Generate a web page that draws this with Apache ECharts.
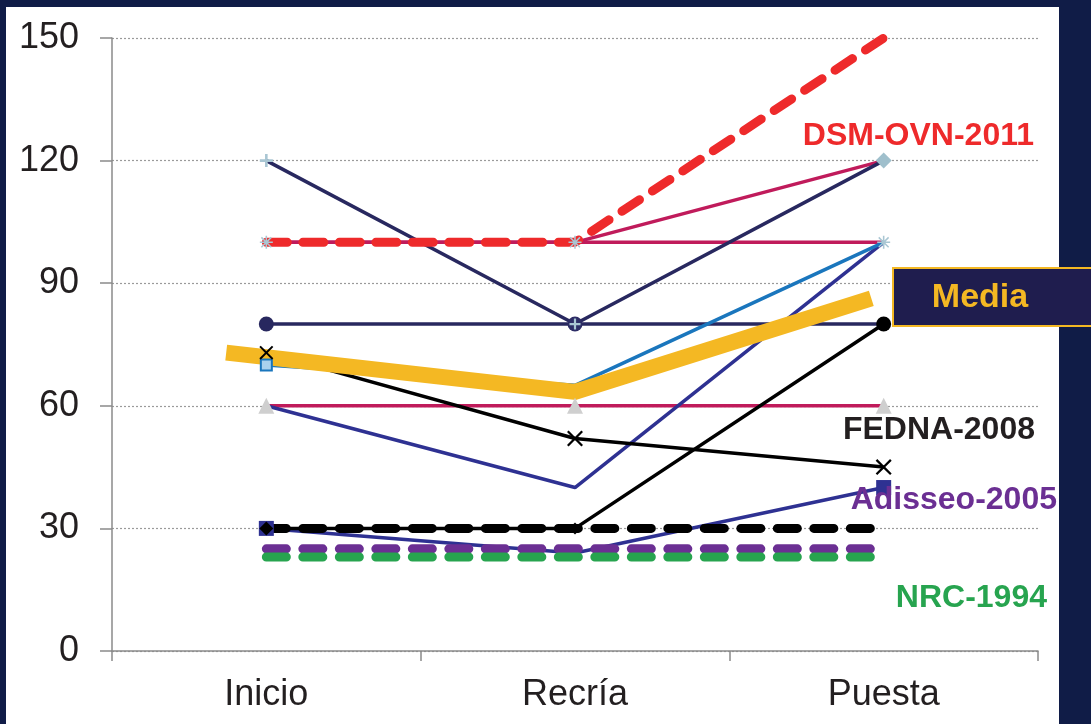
<!DOCTYPE html>
<html>
<head>
<meta charset="utf-8">
<script src="https://cdn.jsdelivr.net/npm/echarts@6/dist/echarts.min.js"></script>
<style>
  html, body { margin: 0; padding: 0; background: #101c47; }
  #chart { width: 1091px; height: 724px; }
</style>
</head>
<body>
<div id="chart"></div>
<script>
// datos
const categories = ['Inicio', 'Recría', 'Puesta'];
const yTicks = [0, 30, 60, 90, 120, 150];

const navyVee = [120, 80, 120];
const crimsonUp = [100, 100, 120];
const crimsonFlat = [100, 100, 100];
const navyFlat = [80, 80, 80];
const blueLine = [70, 65, 100];
const crimson60 = [60, 60, 60];
const indigoLine = [60, 40, 100];
const blackCross = [73, 52, 45];
const blackUp = [30, 30, 80];
const navySquare = [30, 24, 40];
const fedna2008 = [30, 30, 30];
const adisseo2005 = [25, 25, 25];
const nrc1994 = [23, 23, 23];
const dsm2011 = [100, 100, 150];
// linea Media (posicion x en unidades de categoria, 0..3)
const mediaX = [0.37, 1.5, 2.46];
const mediaY = [73, 63.4, 86.3];

const FONT = '"Liberation Sans", Arial, sans-serif';
const PLUS = 'path://M4,0h2v10h-2zM0,4h10v2h-10z';
const CROSS = 'path://M0,1L1,0L5,4L9,0L10,1L6,5L10,9L9,10L5,6L1,10L0,9L4,5z';
const STAR = 'path://M4.4,0h1.2v10h-1.2zM0,4.4h10v1.2h-10zM0.8,1.6L1.6,0.8L9.2,8.4L8.4,9.2zM8.4,0.8L9.2,1.6L1.6,9.2L0.8,8.4z';
const NONE = { symbol: 'none' };
const light = '#a9c6d3';

// simbolo por punto (solo estilo)
function pts(values, marks) {
  return values.map((v, i) => Object.assign({ value: v }, marks && marks[i] ? marks[i] : NONE));
}
function mk(symbol, size, color, extra) {
  return { symbol: symbol, symbolSize: size, itemStyle: Object.assign({ color: color, borderWidth: 0 }, extra || {}) };
}

function solid(name, values, color, width, marks) {
  return {
    name: name, type: 'line', data: pts(values, marks),
    lineStyle: { color: color, width: width },
    itemStyle: { color: color },
    showAllSymbol: true, clip: false
  };
}
function dashed(name, values, color, width, dash) {
  return {
    name: name, type: 'line', data: pts(values),
    lineStyle: { color: color, width: width, type: dash, cap: 'round' },
    symbol: 'none', clip: false
  };
}

const chart = echarts.init(document.getElementById('chart'));
chart.setOption({
  animation: false,
  backgroundColor: '#101c47',
  grid: { left: 112, right: 53, top: 38, bottom: 73 },
  xAxis: [{
    type: 'category', data: categories, boundaryGap: true,
    axisLine: { lineStyle: { color: '#8a8a8a', width: 1.5 } },
    axisTick: { show: true, length: 10, lineStyle: { color: '#8a8a8a', width: 1.5 } },
    axisLabel: { fontFamily: FONT, fontSize: 36, color: '#231f20', margin: 26 }
  }, {
    type: 'value', min: 0, max: 3, show: false
  }],
  yAxis: {
    type: 'value', min: yTicks[0], max: yTicks[yTicks.length - 1], interval: 30,
    axisLine: { show: true, lineStyle: { color: '#8a8a8a', width: 1.5 } },
    axisTick: { show: true, length: 12, lineStyle: { color: '#8a8a8a', width: 1.5 } },
    axisLabel: { fontFamily: FONT, fontSize: 36, color: '#231f20', margin: 33 },
    splitLine: { lineStyle: { color: '#9a9a9a', width: 1.2, type: [2, 2] } }
  },
  graphic: [
    { type: 'rect', z: -10, silent: true, shape: { x: 6, y: 7, width: 1053, height: 720 }, style: { fill: '#ffffff' } },
    { type: 'text', right: 1091 - 1034, top: 120, z: 100,
      style: { text: 'DSM-OVN-2011', font: 'bold 32px ' + FONT, fill: '#ee2a2b' } },
    { type: 'text', right: 1091 - 1035, top: 414, z: 100,
      style: { text: 'FEDNA-2008', font: 'bold 32px ' + FONT, fill: '#231f20' } },
    { type: 'text', right: 1091 - 1057, top: 484, z: 100,
      style: { text: 'Adisseo-2005', font: 'bold 32px ' + FONT, fill: '#6b2f93' } },
    { type: 'text', right: 1091 - 1047, top: 582, z: 100,
      style: { text: 'NRC-1994', font: 'bold 32px ' + FONT, fill: '#27a44f' } },
    { type: 'rect', z: 100, shape: { x: 893, y: 268, width: 210, height: 58 },
      style: { fill: '#1f1d4e', stroke: '#f4b823', lineWidth: 2 } },
    { type: 'text', z: 101, x: 980, y: 298,
      style: { text: 'Media', font: 'bold 34px ' + FONT, fill: '#f4b823', align: 'center', verticalAlign: 'middle' } }
  ],
  series: [
    solid('c100a', crimsonUp, '#c01b5b', 3.5, [mk(STAR, 13, light), mk(STAR, 13, light), null]),
    solid('c100b', crimsonFlat, '#c01b5b', 3.5, [null, null, mk(STAR, 13, light)]),
    solid('c60', crimson60, '#c01b5b', 3.5, [mk('triangle', 16, '#cfcfcf'), mk('triangle', 16, '#cfcfcf'), mk('triangle', 16, '#cfcfcf')]),
    solid('navyVee', navyVee, '#28285f', 3.5, [mk(PLUS, 13, light), null, mk('diamond', 16, '#9fbfcc')]),
    solid('navy80', navyFlat, '#28285f', 3.5, [mk('circle', 15, '#28285f'), mk('circle', 15, '#2d2d66'), null]),
    { type: 'line', data: pts([null, 80, null], [null, mk(PLUS, 11, light), null]), symbol: 'none', lineStyle: { width: 0 }, clip: false },
    solid('indigo', indigoLine, '#2e3192', 3.5),
    solid('blue', blueLine, '#1a76bd', 3.5, [mk('rect', 11, '#a9d2ee', { borderColor: '#1a76bd', borderWidth: 2 }), null, null]),
    solid('blackX', blackCross, '#000000', 3.5, [mk(CROSS, 14, '#000'), mk(CROSS, 16, '#000'), mk(CROSS, 16, '#000')]),
    solid('navySq', navySquare, '#2e3192', 3.5, [mk('rect', 15, '#2e3192'), null, mk('rect', 15, '#2e3192')]),
    solid('blackUp', blackUp, '#000000', 3.5, [mk('diamond', 14, '#000'), mk('diamond', 12, '#000'), mk('circle', 15, '#000')]),
    dashed('FEDNA-2008', fedna2008, '#000000', 9, [20, 16.5]),
    dashed('Adisseo-2005', adisseo2005, '#6b2f93', 9, [20, 16.5]),
    dashed('NRC-1994', nrc1994, '#27a44f', 9, [20, 16.5]),
    dashed('DSM-OVN-2011', dsm2011, '#ee2a2b', 9, [21, 15.5]),
    {
      name: 'Media', type: 'line', xAxisIndex: 1, symbol: 'none', clip: false,
      data: mediaX.map((x, i) => [x, mediaY[i]]),
      lineStyle: { color: '#f4b823', width: 16, cap: 'butt', join: 'miter' }
    }
  ]
});
</script>
</body>
</html>
